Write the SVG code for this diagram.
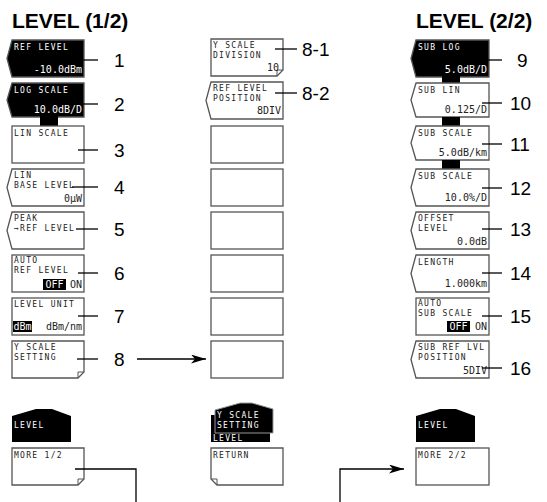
<svg xmlns="http://www.w3.org/2000/svg" width="547" height="502" viewBox="0 0 547 502">
<style>
.box{fill:#fff;stroke:#555;stroke-width:1.3}
.bbox{fill:#000;stroke:#555;stroke-width:1.3}
.fold{fill:none;stroke:#555;stroke-width:1}
.lbl{font-family:"DejaVu Sans Mono",monospace;font-size:8px;letter-spacing:1.3px;fill:#222}
.val{font-family:"DejaVu Sans Mono",monospace;font-size:10px;fill:#222;text-anchor:end}
.hv{font-family:"DejaVu Sans Mono",monospace;font-size:10px;fill:#fff;text-anchor:middle}
.w{fill:#fff}
.num{font-family:"Liberation Sans",Arial,sans-serif;font-size:19px;fill:#000}
.title{font-family:"Liberation Sans",Arial,sans-serif;font-size:21px;font-weight:bold;fill:#000}
.lead{stroke:#000;stroke-width:1.3;fill:none}
</style>
<defs>
<marker id="arr" viewBox="0 0 15 9" refX="15" refY="4.5" markerWidth="15" markerHeight="9" markerUnits="userSpaceOnUse" orient="auto">
<path d="M0,0 L15,4.5 L0,9 L4,4.5 Z" fill="#000"/>
</marker>
</defs>

<text class="title" x="12" y="28">LEVEL (1/2)</text>
<text class="title" x="416" y="28">LEVEL (2/2)</text>

<!-- Left column -->
<g id="n1">
<path class="bbox" d="M12,40 H84 V77 H12 L7,58.5 Z"/>
<text class="lbl w" x="14" y="50">REF LEVEL</text>
<text class="val w" x="82" y="73">-10.0dBm</text>
</g>
<g id="n2">
<path class="bbox" d="M12,83 H84 V117 H12 L7,100 Z"/>
<rect x="40" y="116" width="18" height="11" fill="#000"/>
<text class="lbl w" x="14" y="93">LOG SCALE</text>
<text class="val w" x="82" y="113">10.0dB/D</text>
</g>
<g id="n3">
<rect class="box" x="12" y="126" width="72" height="37"/>
<text class="lbl" x="14" y="136">LIN SCALE</text>
</g>
<g id="n4">
<path class="box" d="M12,169 H84 V206 H12 L7,187.5 Z"/>
<text class="lbl" x="14" y="178">LIN</text>
<text class="lbl" x="14" y="188">BASE LEVEL</text>
<text class="val" x="82" y="202">0μW</text>
</g>
<g id="n5">
<path class="box" d="M12,212 H84 V249 H12 L7,230.5 Z"/>
<text class="lbl" x="14" y="221">PEAK</text>
<text class="lbl" x="14" y="231">→REF LEVEL</text>
</g>
<g id="n6">
<rect class="box" x="12" y="255" width="72" height="37"/>
<text class="lbl" x="14" y="263">AUTO</text>
<text class="lbl" x="14" y="273">REF LEVEL</text>
<rect x="43" y="279" width="23" height="11" fill="#000"/>
<text class="hv" x="54.5" y="288">OFF</text>
<text class="val" x="82" y="288">ON</text>
</g>
<g id="n7">
<rect class="box" x="12" y="298" width="72" height="37"/>
<text class="lbl" x="14" y="307">LEVEL UNIT</text>
<rect x="13" y="321" width="19" height="11" fill="#000"/>
<text class="hv" x="22.5" y="330">dBm</text>
<text class="val" x="82" y="330">dBm/nm</text>
</g>
<g id="n8">
<path class="box" d="M12,341 H84 V372 L78,378 H12 Z"/>
<path class="fold" d="M78,378 V372 H84"/>
<text class="lbl" x="14" y="350">Y SCALE</text>
<text class="lbl" x="14" y="360">SETTING</text>
</g>
<g id="lvl1">
<path d="M12,442 V416 L36,409 H52 L71,416 V442 Z" fill="#000"/>
<text class="lbl w" x="14" y="428">LEVEL</text>
</g>
<g id="more1">
<path class="box" d="M12,448 H84 V479 L78,485 H12 Z"/>
<path class="fold" d="M78,485 V479 H84"/>
<text class="lbl" x="14" y="458">MORE 1/2</text>
</g>

<!-- Middle column -->
<g id="n8-1">
<path class="box" d="M211,39 H283 V70 L277,76 H211 Z"/>
<path class="fold" d="M277,76 V70 H283"/>
<text class="lbl" x="213" y="48">Y SCALE</text>
<text class="lbl" x="213" y="58">DIVISION</text>
<text class="val" x="279" y="71">10</text>
</g>
<g id="n8-2">
<path class="box" d="M211,82 H283 V119 H211 L206,100.5 Z"/>
<text class="lbl" x="213" y="91">REF LEVEL</text>
<text class="lbl" x="213" y="101">POSITION</text>
<text class="val" x="281" y="114">8DIV</text>
</g>
<g id="m3"><rect class="box" x="211" y="126" width="72" height="37"/></g>
<g id="m4"><rect class="box" x="211" y="169" width="72" height="37"/></g>
<g id="m5"><rect class="box" x="211" y="212" width="72" height="37"/></g>
<g id="m6"><rect class="box" x="211" y="255" width="72" height="37"/></g>
<g id="m7"><rect class="box" x="211" y="298" width="72" height="37"/></g>
<g id="m8"><rect class="box" x="211" y="341" width="72" height="37"/></g>
<g id="ysetting">
<rect x="211" y="415" width="59" height="27" fill="#000"/>
<text class="lbl w" x="213" y="441">LEVEL</text>
<path d="M215,433 V410 L240,403 H252 L273,409 V433 Z" fill="#000" stroke="#999" stroke-width="1"/>
<text class="lbl w" x="217" y="418">Y SCALE</text>
<text class="lbl w" x="217" y="428">SETTING</text>
</g>
<g id="ret">
<path class="box" d="M211,448 H283 V485 H217 L211,479 Z"/>
<path class="fold" d="M211,479 H217 V485"/>
<text class="lbl" x="213" y="458">RETURN</text>
</g>

<!-- Right column -->
<g id="n9">
<path class="bbox" d="M416,40 H489 V77 H416 L411,58.5 Z"/>
<rect x="442" y="76" width="18" height="8" fill="#000"/>
<text class="lbl w" x="418" y="50">SUB LOG</text>
<text class="val w" x="487" y="73">5.0dB/D</text>
</g>
<g id="n10">
<path class="box" d="M416,83 H489 V117 H416 L411,100 Z"/>
<rect x="442" y="117" width="18" height="9" fill="#000"/>
<text class="lbl" x="418" y="93">SUB LIN</text>
<text class="val" x="487" y="113">0.125/D</text>
</g>
<g id="n11">
<path class="box" d="M416,126 H489 V160 H416 L411,143 Z"/>
<rect x="442" y="160" width="18" height="9" fill="#000"/>
<text class="lbl" x="418" y="136">SUB SCALE</text>
<text class="val" x="487" y="156">5.0dB/km</text>
</g>
<g id="n12">
<path class="box" d="M416,169 H489 V206 H416 L411,187.5 Z"/>
<text class="lbl" x="418" y="179">SUB SCALE</text>
<text class="val" x="487" y="201">10.0%/D</text>
</g>
<g id="n13">
<path class="box" d="M416,212 H489 V249 H416 L411,230.5 Z"/>
<text class="lbl" x="418" y="221">OFFSET</text>
<text class="lbl" x="418" y="231">LEVEL</text>
<text class="val" x="487" y="245">0.0dB</text>
</g>
<g id="n14">
<path class="box" d="M416,255 H489 V292 H416 L411,273.5 Z"/>
<text class="lbl" x="418" y="265">LENGTH</text>
<text class="val" x="487" y="287">1.000km</text>
</g>
<g id="n15">
<rect class="box" x="416" y="298" width="73" height="37"/>
<text class="lbl" x="418" y="306">AUTO</text>
<text class="lbl" x="418" y="316">SUB SCALE</text>
<rect x="447" y="321" width="23" height="11" fill="#000"/>
<text class="hv" x="458.5" y="330">OFF</text>
<text class="val" x="487" y="330">ON</text>
</g>
<g id="n16">
<path class="box" d="M416,341 H489 V378 H416 L411,359.5 Z"/>
<text class="lbl" x="418" y="350">SUB REF LVL</text>
<text class="lbl" x="418" y="360">POSITION</text>
<text class="val" x="487" y="374">5DIV</text>
</g>
<g id="lvl2">
<path d="M416,442 V416 L440,409 H456 L475,416 V442 Z" fill="#000"/>
<text class="lbl w" x="418" y="428">LEVEL</text>
</g>
<g id="more2">
<rect class="box" x="416" y="448" width="73" height="37"/>
<text class="lbl" x="418" y="458">MORE 2/2</text>
</g>

<!-- Connectors -->
<g id="connectors">
<path class="lead" d="M78,60 H98"/>
<path class="lead" d="M78,104 H98"/>
<path class="lead" d="M78,150 H98"/>
<path class="lead" d="M72,187 H98"/>
<path class="lead" d="M76,229 H98"/>
<path class="lead" d="M78,273 H98"/>
<path class="lead" d="M78,316 H98"/>
<path class="lead" d="M77,359 H98"/>
<path class="lead" d="M137,359 H206" marker-end="url(#arr)"/>
<path class="lead" d="M275,49 H297"/>
<path class="lead" d="M275,93 H297"/>
<path class="lead" d="M482,60 H502"/>
<path class="lead" d="M482,103 H502"/>
<path class="lead" d="M482,144 H502"/>
<path class="lead" d="M482,188 H502"/>
<path class="lead" d="M482,229 H502"/>
<path class="lead" d="M482,273 H502"/>
<path class="lead" d="M482,316 H502"/>
<path class="lead" d="M482,368 H502"/>
<path class="lead" d="M75,469 H136 V502"/>
<path class="lead" d="M340,502 V469 H404" marker-end="url(#arr)"/>
</g>

<!-- Numbers -->
<g id="labels">
<text class="num" x="114" y="67">1</text>
<text class="num" x="114" y="111">2</text>
<text class="num" x="114" y="157">3</text>
<text class="num" x="114" y="194">4</text>
<text class="num" x="114" y="236">5</text>
<text class="num" x="114" y="280">6</text>
<text class="num" x="114" y="323">7</text>
<text class="num" x="114" y="366">8</text>
<text class="num" x="302" y="56">8-1</text>
<text class="num" x="302" y="100">8-2</text>
<text class="num" x="517" y="67">9</text>
<text class="num" x="510" y="110">10</text>
<text class="num" x="510" y="151">11</text>
<text class="num" x="510" y="195">12</text>
<text class="num" x="510" y="236">13</text>
<text class="num" x="510" y="280">14</text>
<text class="num" x="510" y="323">15</text>
<text class="num" x="510" y="375">16</text>
</g>
</svg>
